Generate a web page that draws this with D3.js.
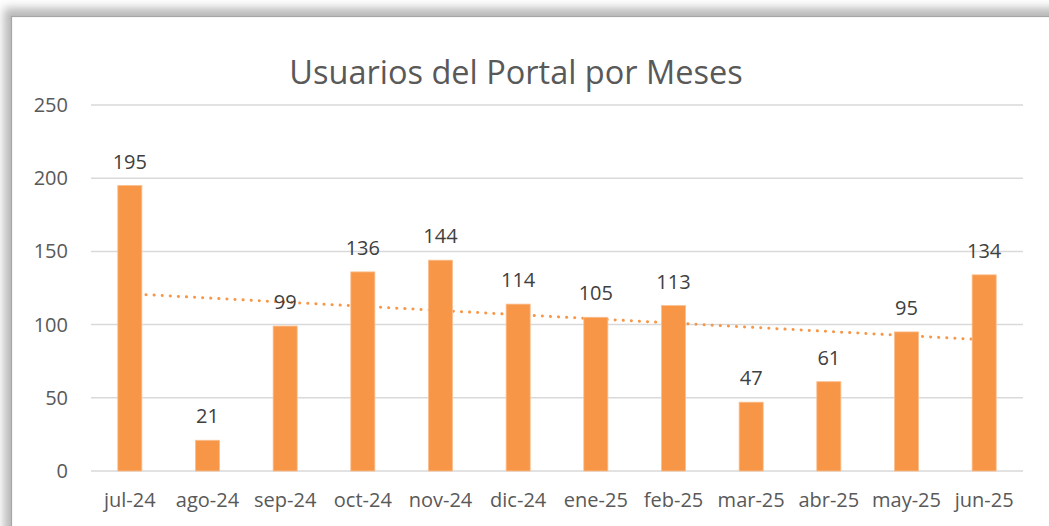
<!doctype html>
<html>
<head>
    <style>
        body { margin: 0; background: #fff; }
        text { font-family: "Open Sans", sans-serif; }
    </style>
    <script src="https://d3js.org/d3.v7.min.js"></script>
</head>
<body>
<svg width="1049" height="526" id="chart"></svg>
<script>
    // data
    var months = ["jul-24", "ago-24", "sep-24", "oct-24", "nov-24", "dic-24",
                  "ene-25", "feb-25", "mar-25", "abr-25", "may-25", "jun-25"];
    var usuarios = [195, 21, 99, 136, 144, 114, 105, 113, 47, 61, 95, 134];
    var yTicks = [0, 50, 100, 150, 200, 250];

    var svg = d3.select("svg"),
        plotLeft = 91, plotRight = 1023, plotTop = 105, plotBottom = 471;

    // frame with soft shadow on top / left
    var defs = svg.append("defs");
    defs.append("filter").attr("id", "blur")
        .attr("x", "-10%").attr("y", "-10%").attr("width", "120%").attr("height", "120%")
        .append("feGaussianBlur").attr("stdDeviation", 5);
    svg.append("rect")
       .attr("x", 4).attr("y", 8).attr("width", 1100).attr("height", 600)
       .attr("fill", "#b8b8b8").attr("filter", "url(#blur)");
    svg.append("rect")
       .attr("x", 11.5).attr("y", 16.5).attr("width", 1100).attr("height", 600)
       .attr("fill", "#fff").attr("stroke", "#a6a6a6").attr("stroke-width", 1.2);

    svg.append("text")
       .attr("x", 516)
       .attr("y", 84)
       .attr("text-anchor", "middle")
       .attr("font-size", "32.5px")
       .attr("fill", "#595959")
       .text("Usuarios del Portal por Meses");

    var xScale = d3.scaleBand().domain(months).range([plotLeft, plotRight]).paddingInner(0.69).paddingOuter(0.345),
        yScale = d3.scaleLinear().domain([0, 250]).range([plotBottom, plotTop]);

    // gridlines
    svg.append("g")
       .selectAll("line")
       .data(yTicks)
       .enter().append("line")
       .attr("x1", plotLeft).attr("x2", plotRight)
       .attr("y1", function(d) { return yScale(d); })
       .attr("y2", function(d) { return yScale(d); })
       .attr("stroke", "#d9d9d9")
       .attr("stroke-width", 1.5);

    // y axis labels
    var yAxis = svg.append("g")
       .attr("transform", "translate(" + (plotLeft - 23) + ",0)")
       .call(d3.axisLeft(yScale).tickValues(yTicks).tickSize(0).tickPadding(0));
    yAxis.select(".domain").remove();
    yAxis.selectAll("text")
         .attr("font-size", "20px")
         .attr("font-family", "Open Sans, sans-serif")
         .attr("fill", "#595959");

    // x axis labels
    var xAxis = svg.append("g")
       .attr("transform", "translate(0," + plotBottom + ")")
       .call(d3.axisBottom(xScale).tickSize(0).tickPadding(22));
    xAxis.select(".domain").remove();
    xAxis.selectAll("text")
         .attr("font-size", "20px")
         .attr("font-family", "Open Sans, sans-serif")
         .attr("fill", "#595959");

    // linear trendline (least squares over the series), drawn under the bars
    var n = usuarios.length,
        mx = d3.mean(usuarios, function(d, i) { return i + 1; }),
        my = d3.mean(usuarios),
        sxy = d3.sum(usuarios, function(d, i) { return (i + 1 - mx) * (d - my); }),
        sxx = d3.sum(usuarios, function(d, i) { return (i + 1 - mx) * (i + 1 - mx); }),
        slope = sxy / sxx,
        icpt = my - slope * mx;
    var trend = [1, n].map(function(x) { return [months[x - 1], icpt + slope * x]; });
    svg.append("path")
       .datum(trend)
       .attr("fill", "none")
       .attr("stroke", "#f79646")
       .attr("stroke-width", 3)
       .attr("stroke-linecap", "round")
       .attr("stroke-dasharray", "0.1 8")
       .attr("d", d3.line()
           .x(function(d) { return xScale(d[0]) + xScale.bandwidth() / 2; })
           .y(function(d) { return yScale(d[1]); }));

    // bars
    svg.append("g")
       .selectAll(".bar")
       .data(usuarios)
       .enter().append("rect")
       .attr("class", "bar")
       .attr("x", function(d, i) { return xScale(months[i]); })
       .attr("y", function(d) { return yScale(d); })
       .attr("width", xScale.bandwidth())
       .attr("height", function(d) { return plotBottom - yScale(d); })
       .attr("fill", "#f79646")
       .attr("stroke", "#fbbf8f")
       .attr("stroke-width", 0.8);

    // data labels
    svg.append("g")
       .selectAll("text")
       .data(usuarios)
       .enter().append("text")
       .attr("x", function(d, i) { return xScale(months[i]) + xScale.bandwidth() / 2; })
       .attr("y", function(d) { return yScale(d) - 17; })
       .attr("text-anchor", "middle")
       .attr("font-size", "20px")
       .attr("fill", "#404040")
       .text(function(d) { return d; });
</script>
</body>
</html>
